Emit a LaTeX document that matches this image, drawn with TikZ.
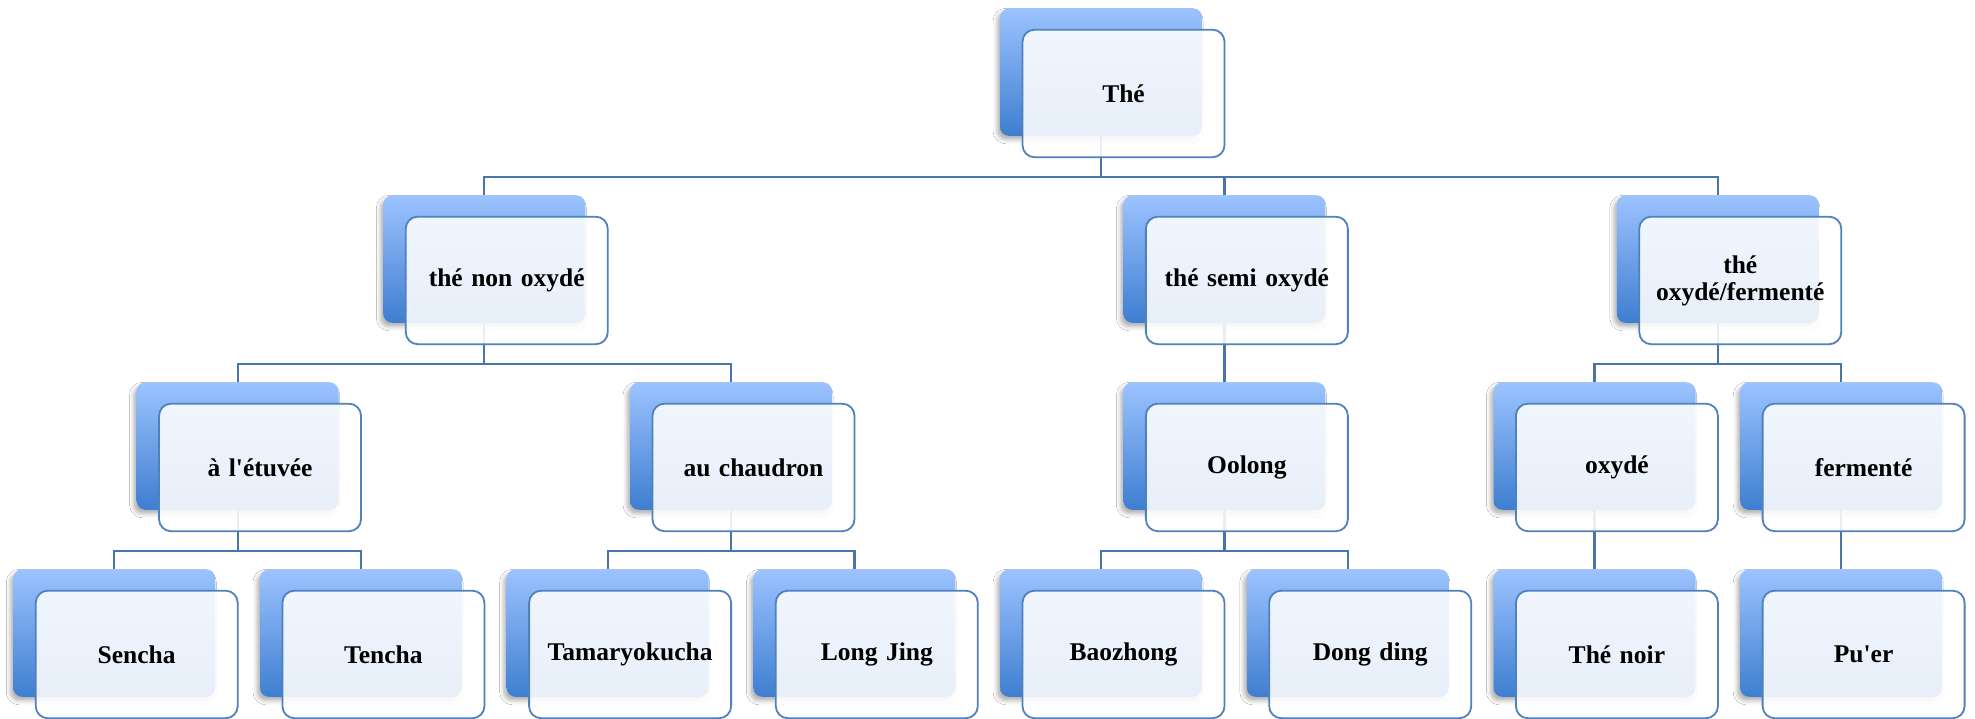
\documentclass[tikz,border=0pt]{standalone}
\usepackage{fontspec}
\setmainfont{Liberation Serif}[Ligatures=TeXOff]
\usetikzlibrary{shadows.blur}
\definecolor{backtop}{HTML}{9CC3FF}
\definecolor{backbot}{HTML}{3E7ED0}
\definecolor{frontline}{HTML}{4F81BD}
\definecolor{connline}{HTML}{4A75AC}
\newcommand\tbBack[3]{\node[backbox] (b#1) at ({13.3+#2*246.7},{8.3+#3*187}) {};}
\newcommand\tbFront[4]{\node[frontbox] (f#1) at ({35.7+#2*246.7},{29.7+#3*187}) {#4};}
\begin{document}
\begin{tikzpicture}[x=1pt,y=-1pt,
  backbox/.style={rectangle, anchor=north west, minimum width=202pt, minimum height=127.5pt,
    inner sep=0pt, outer sep=0pt, rounded corners=9pt, top color=backtop, bottom color=backbot,
    draw=none, blur shadow={shadow xshift=-3pt, shadow yshift=-4pt, shadow blur radius=4pt, shadow opacity=30}},
  frontbox/.style={rectangle, anchor=north west, minimum width=202pt, minimum height=127.5pt,
    inner sep=0pt, outer sep=0pt, rounded corners=12pt, draw=frontline, line width=1.8pt,
    fill=white, fill opacity=0.88, text opacity=1, text width=182pt, align=center,
    font=\fontsize{25.5}{27}\selectfont\bfseries},
  conn/.style={draw=connline, line width=2.2pt}]
\useasboundingbox (0,0) rectangle (1975,718);
\fill[white] (0,0) rectangle (1975,718);
% back boxes
\tbBack{the}{4}{0}
\tbBack{non}{1.5}{1}
\tbBack{semi}{4.5}{1}
\tbBack{ofer}{6.5}{1}
\tbBack{etuv}{0.5}{2}
\tbBack{chau}{2.5}{2}
\tbBack{oolo}{4.5}{2}
\tbBack{oxy}{6}{2}
\tbBack{ferm}{7}{2}
\tbBack{sen}{0}{3}
\tbBack{ten}{1}{3}
\tbBack{tam}{2}{3}
\tbBack{lon}{3}{3}
\tbBack{bao}{4}{3}
\tbBack{don}{5}{3}
\tbBack{noir}{6}{3}
\tbBack{puer}{7}{3}
% bus levels
\coordinate (y1) at (0,176.7);
\coordinate (y2) at (0,363.7);
\coordinate (y3) at (0,550.7);
% connectors
\draw[conn] (bthe.south) -- (bthe.south |- y1);
\draw[conn] (bnon.north) -- (bnon.north |- y1) -- (bofer.north |- y1) -- (bofer.north);
\draw[conn] (bsemi.north) -- (bsemi.north |- y1);
\draw[conn] (bnon.south) -- (bnon.south |- y2);
\draw[conn] (betuv.north) -- (betuv.north |- y2) -- (bchau.north |- y2) -- (bchau.north);
\draw[conn] (bsemi.south) -- (boolo.north);
\draw[conn] (bofer.south) -- (bofer.south |- y2);
\draw[conn] (boxy.north) -- (boxy.north |- y2) -- (bferm.north |- y2) -- (bferm.north);
\draw[conn] (betuv.south) -- (betuv.south |- y3);
\draw[conn] (bsen.north) -- (bsen.north |- y3) -- (bten.north |- y3) -- (bten.north);
\draw[conn] (bchau.south) -- (bchau.south |- y3);
\draw[conn] (btam.north) -- (btam.north |- y3) -- (blon.north |- y3) -- (blon.north);
\draw[conn] (boolo.south) -- (boolo.south |- y3);
\draw[conn] (bbao.north) -- (bbao.north |- y3) -- (bdon.north |- y3) -- (bdon.north);
\draw[conn] (boxy.south) -- (bnoir.north);
\draw[conn] (bferm.south) -- (bpuer.north);
% front boxes
\tbFront{the}{4}{0}{Thé}
\tbFront{non}{1.5}{1}{thé non oxydé}
\tbFront{semi}{4.5}{1}{thé semi oxydé}
\tbFront{ofer}{6.5}{1}{thé oxydé/fermenté}
\tbFront{etuv}{0.5}{2}{à l'étuvée}
\tbFront{chau}{2.5}{2}{au chaudron}
\tbFront{oolo}{4.5}{2}{Oolong}
\tbFront{oxy}{6}{2}{oxydé}
\tbFront{ferm}{7}{2}{fermenté}
\tbFront{sen}{0}{3}{Sencha}
\tbFront{ten}{1}{3}{Tencha}
\tbFront{tam}{2}{3}{Tamaryokucha}
\tbFront{lon}{3}{3}{Long Jing}
\tbFront{bao}{4}{3}{Baozhong}
\tbFront{don}{5}{3}{Dong ding}
\tbFront{noir}{6}{3}{Thé noir}
\tbFront{puer}{7}{3}{Pu'er}
\end{tikzpicture}
\end{document}
